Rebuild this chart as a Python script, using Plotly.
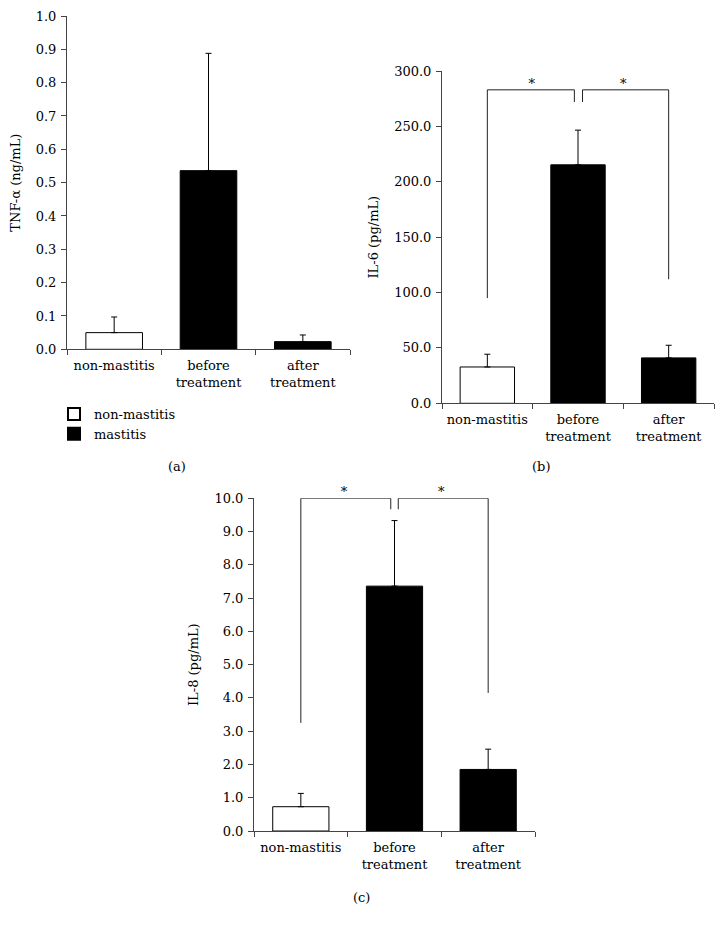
import plotly.graph_objects as go

# page has an 8px body margin; the figure is sized to fill the 725x930 window exactly
PAGE_W, PAGE_H = 725, 930
OFF = 8
W, H = PAGE_W - 2 * OFF, PAGE_H - 2 * OFF

categories = ["non-mastitis", "before<br>treatment", "after<br>treatment"]
cat_pos = [0, 1, 2]
cat_bounds = [-0.5, 0.5, 1.5, 2.5]

tnf_values = [0.050, 0.536, 0.023]
tnf_errors = [0.047, 0.352, 0.020]

il6_values = [32.8, 215.3, 41.0]
il6_errors = [11.5, 31.3, 11.4]

il8_values = [0.73, 7.36, 1.85]
il8_errors = [0.40, 1.97, 0.61]

y_ticks_tnf = [0.0, 0.1, 0.2, 0.3, 0.4, 0.5, 0.6, 0.7, 0.8, 0.9, 1.0]
y_ticks_il6 = [0, 50, 100, 150, 200, 250, 300]
y_ticks_il8 = [0, 1, 2, 3, 4, 5, 6, 7, 8, 9, 10]

# significance brackets (category position, value)
il6_bracket_left_x = [0, 0, 0.96, 0.96]
il6_bracket_left_y = [95, 283, 283, 272]
il6_bracket_right_x = [1.05, 1.05, 2.0, 2.0]
il6_bracket_right_y = [272, 283, 283, 112]
il6_star_x = [0.49, 1.50]
il6_star_y = [288, 288]

il8_bracket_left_x = [0, 0, 0.96, 0.96]
il8_bracket_left_y = [3.25, 10.0, 10.0, 9.67]
il8_bracket_right_x = [1.04, 1.04, 2.0, 2.0]
il8_bracket_right_y = [9.67, 10.0, 10.0, 4.15]
il8_star_x = [0.46, 1.50]
il8_star_y = [9.97, 9.97]  # asterisk drawn just above this point

FONT = "DejaVu Serif"
FS = 13


def px_x(p):
    return (p - OFF) / W


def px_y(p):
    return 1 - (p - OFF) / H


fig = go.Figure()

panels = [
    ("x", "y", tnf_values, tnf_errors, True),
    ("x2", "y2", il6_values, il6_errors, False),
    ("x3", "y3", il8_values, il8_errors, False),
]

for xa, ya, vals, errs, show in panels:
    fig.add_trace(go.Bar(
        x=[cat_pos[0]], y=[vals[0]], xaxis=xa, yaxis=ya,
        name="non-mastitis", showlegend=show, legendgroup="nm",
        marker=dict(color="white", line=dict(color="black", width=1)),
        width=0.6,
        error_y=dict(type="data", array=[errs[0]], symmetric=False,
                     arrayminus=[0], color="black", thickness=1, width=3),
    ))
    fig.add_trace(go.Bar(
        x=cat_pos[1:], y=vals[1:], xaxis=xa, yaxis=ya,
        name="mastitis", showlegend=show, legendgroup="m",
        marker=dict(color="black", line=dict(color="black", width=1)),
        width=0.6,
        error_y=dict(type="data", array=errs[1:], symmetric=False,
                     arrayminus=[0, 0], color="black", thickness=1, width=3),
    ))

for bx, by, xa, ya in [
    (il6_bracket_left_x, il6_bracket_left_y, "x2", "y2"),
    (il6_bracket_right_x, il6_bracket_right_y, "x2", "y2"),
    (il8_bracket_left_x, il8_bracket_left_y, "x3", "y3"),
    (il8_bracket_right_x, il8_bracket_right_y, "x3", "y3"),
]:
    fig.add_trace(go.Scatter(
        x=bx, y=by, xaxis=xa, yaxis=ya, mode="lines",
        line=dict(color="#222", width=1), showlegend=False, hoverinfo="skip",
        cliponaxis=False,
    ))

for sx, sy, xa, ya, pos in [
    (il6_star_x, il6_star_y, "x2", "y2", "middle center"),
    (il8_star_x, il8_star_y, "x3", "y3", "top center"),
]:
    fig.add_trace(go.Scatter(
        x=sx, y=sy, xaxis=xa, yaxis=ya, mode="text", text=["*"] * len(sx),
        textposition=pos,
        textfont=dict(family=FONT, size=FS, color="black"),
        showlegend=False, hoverinfo="skip", cliponaxis=False,
    ))

annotations = []
for label, xp, yp in [("(a)", 177, 467), ("(b)", 541, 467), ("(c)", 361, 897)]:
    annotations.append(dict(x=px_x(xp), y=px_y(yp), xref="paper", yref="paper",
                            text=label, showarrow=False,
                            font=dict(family=FONT, size=FS, color="black"),
                            xanchor="center", yanchor="middle"))

axis_common = dict(
    showline=True, linecolor="#444", linewidth=1, ticks="outside", ticklen=5,
    tickcolor="#444", tickwidth=1, showgrid=False, zeroline=False,
    automargin=False,
    tickfont=dict(family=FONT, size=FS, color="black"),
)

yaxis_common = dict(axis_common, ticklabelstandoff=2, tickformat=".1f")

xaxis_common = dict(axis_common, type="linear", range=[-0.5, 2.5],
                    tickvals=cat_pos, ticktext=categories, ticks="",
                    ticklabelstandoff=4,
                    minor=dict(tickvals=cat_bounds, ticks="outside", ticklen=5,
                               tickcolor="#444", tickwidth=1, showgrid=False))

fig.update_layout(
    width=W, height=H,
    margin=dict(l=0, r=0, t=0, b=0, autoexpand=False),
    paper_bgcolor="white", plot_bgcolor="white",
    barmode="overlay",
    font=dict(family=FONT, size=FS, color="black"),
    xaxis=dict(xaxis_common, domain=[px_x(67), px_x(350)], anchor="y"),
    yaxis=dict(yaxis_common, domain=[px_y(349.3), px_y(16)], anchor="x",
               range=[0, 1.0], tickvals=y_ticks_tnf,
               title=dict(text="TNF-α (ng/mL)", font=dict(family=FONT, size=FS), standoff=12)),
    xaxis2=dict(xaxis_common, domain=[px_x(442), px_x(714)], anchor="y2"),
    yaxis2=dict(yaxis_common, domain=[px_y(403.3), px_y(71)], anchor="x2",
                range=[0, 300], tickvals=y_ticks_il6,
                title=dict(text="IL-6 (pg/mL)", font=dict(family=FONT, size=FS), standoff=12)),
    xaxis3=dict(xaxis_common, domain=[px_x(254), px_x(535)], anchor="y3"),
    yaxis3=dict(yaxis_common, domain=[px_y(831), px_y(498.3)], anchor="x3",
                range=[0, 10], tickvals=y_ticks_il8,
                title=dict(text="IL-8 (pg/mL)", font=dict(family=FONT, size=FS), standoff=12)),
    legend=dict(x=px_x(54), y=px_y(399), xanchor="left", yanchor="top",
                font=dict(family=FONT, size=FS, color="black"),
                bgcolor="rgba(0,0,0,0)", tracegroupgap=0, itemsizing="constant"),
    annotations=annotations,
    showlegend=True,
)

fig.write_html("out.html")
